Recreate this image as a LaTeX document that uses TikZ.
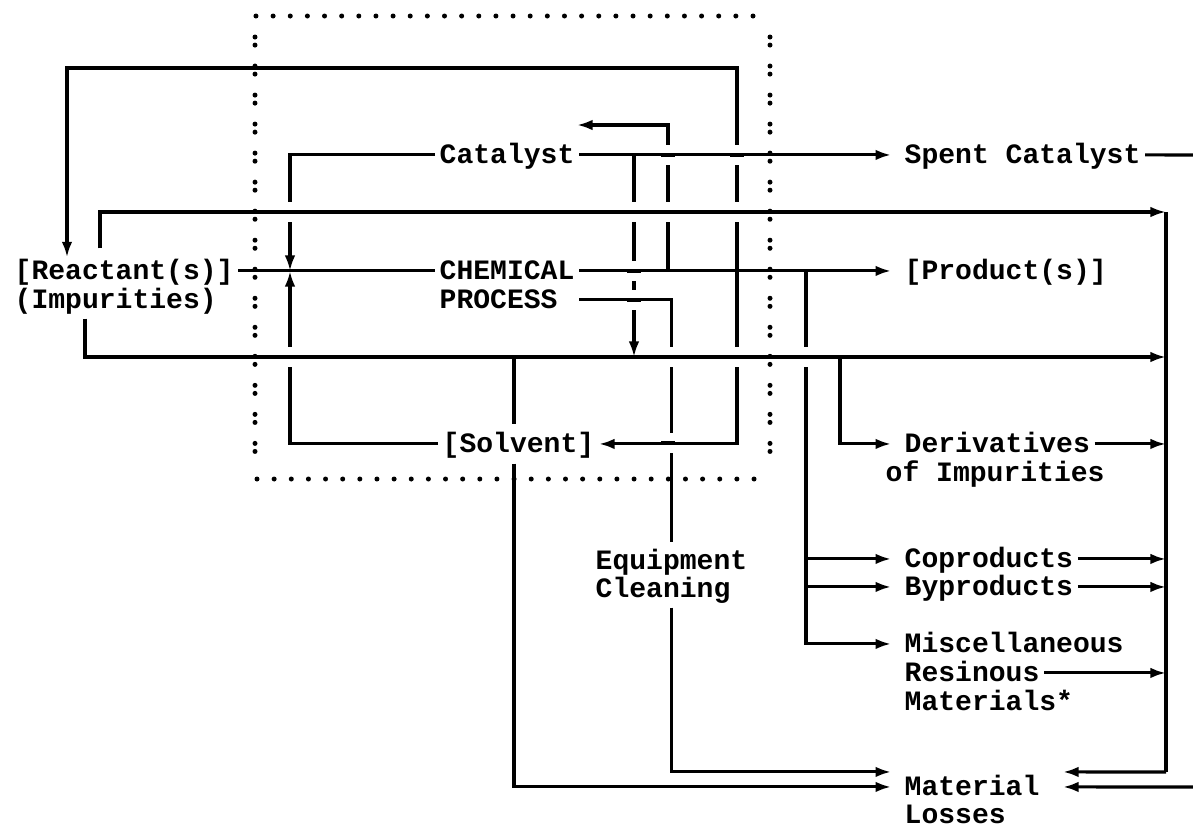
\documentclass[tikz,border=0pt]{standalone}
\usepackage{fontspec}
\newfontfamily\typewriter{Liberation Mono}
\usetikzlibrary{arrows.meta,calc}

\tikzset{
  flow/.style={line width=1.1pt},
  feed/.style={flow, -{Latex[length=5.6pt,width=3.8pt]}},
  into/.style={feed, shorten >=3.2pt},
  lbl/.style={font=\typewriter\bfseries\fontsize{10.1pt}{10.6pt}\selectfont,
    anchor=base west, inner xsep=1.5pt, inner ysep=0pt,
    text height=5.8pt, text depth=0pt},
  boundary/.style={line width=1.8pt, line cap=round, dash pattern=on 0pt off 6.17pt},
  boundaryside/.style={line width=1.8pt, line cap=round,
    dash pattern=on 0pt off 2.9pt on 0pt off 7.55pt},
}
% break in a vertical line where a horizontal one passes over it
\newcommand{\hop}[2]{%
  \fill[white] (#1-5,#2-10) rectangle (#1+5,#2+10);
  \draw[flow] (#1-7,#2) -- (#1+7,#2);}

\begin{document}
\begin{tikzpicture}[x=0.36pt, y=-0.36pt]
\useasboundingbox (0,0) rectangle (1193,827);

% process boundary
\draw[boundary] (753,16) -- (255,16);
\draw[boundary] (257,479) -- (770,479);
\draw[boundaryside] (255,37) -- (255,455);
\draw[boundaryside] (770,37) -- (770,455);

% labels
\node[lbl] (reactant) at (10,279) {[Reactant(s)]};
\node[lbl] (impurity) at (10,308) {(Impurities)};
\node[lbl] (catalyst) at (435,163) {Catalyst};
\node[lbl] (chemical) at (435,279) {CHEMICAL};
\node[lbl] (process) at (435,308) {PROCESS};
\node[lbl, inner ysep=4pt] (solvent) at (438,452) {[Solvent]};
\node[lbl] (spent) at (900,163) {Spent Catalyst};
\node[lbl] (product) at (900,279) {[Product(s)]};
\node[lbl] (deriv) at (900,452) {Derivatives};
\node[lbl] (derivof) at (881,481) {of Impurities};
\node[lbl] (coprod) at (900,567) {Coproducts};
\node[lbl] (byprod) at (900,595) {Byproducts};
\node[lbl] (misc) at (900,652) {Miscellaneous};
\node[lbl] (resin) at (900,681) {Resinous};
\node[lbl] (resinmat) at (900,710) {Materials*};
\node[lbl] (equip) at (591,569) {Equipment};
\node[lbl] (cleaning) at (591,597) {Cleaning};
\node[lbl] (material) at (900,795) {Material};
\node[lbl] (losses) at (900,823) {Losses};

\coordinate (mix) at (290,271);
\coordinate (split) at (737,271);
\coordinate (recyc) at (737,68);
\coordinate (catret) at (577,125);
\coordinate (bustop) at (1166,212);
\coordinate (busbot) at (1166,772);
\coordinate (spentout) at (1195,155);
\coordinate (spentret) at (1195,787);

% main stream
\draw[flow] (reactant.east) -- (chemical.west);
\draw[into] (chemical.east) -- (product.west);
\draw[into] (catalyst.east) -- (spent.west);
\draw[flow] (spent.east) -- (spentout);

% catalyst and solvent into the stream
\draw[feed] (catalyst.west) -| (mix);
\draw[feed] (solvent.west) -| (mix);

% recycle
\draw[feed, shorten >=1.8pt] (split) -- (recyc) -| (reactant.north -| 67,0);
\draw[feed] (split) |- (solvent.east);
\draw[feed] (chemical.east -| 668,0) |- (catret);

% reactants and impurities past the process
\draw[feed, shorten <=5pt] (reactant.north -| 100,0) |- (bustop);
\draw[feed, shorten <=3.6pt] (impurity.south -| 85,0) |- (bustop |- 0,357);
\draw[feed] (catalyst.east -| 634,0) -- (634,357);

% equipment cleaning
\draw[flow, shorten >=3.6pt] (chemical.east |- process.east) -| (equip.north);
\draw[into, shorten <=3.6pt] (equip.south |- cleaning.south) |- ([yshift=5.4pt]material.west);

% losses from the impurity line
\draw[flow] (514,357) -- (solvent.north -| 514,0);
\draw[into] (solvent.south -| 514,0) |- (material.west);

% products and side products
\draw[into] (chemical.east -| 806,0) |- (misc.west);
\draw[into] (coprod.west -| 806,0) -- (coprod.west);
\draw[into] (byprod.west -| 806,0) -- (byprod.west);
\draw[into] (840,357) |- (deriv.west);

% collector to material losses
\foreach \n in {deriv,coprod,byprod,resin}
  \draw[feed] (\n.east) -- (\n.east -| bustop);
\draw[flow] (bustop) -- (busbot);
\draw[feed, shorten >=6.8pt] (busbot) -- ([yshift=5.4pt]material.east);
\draw[feed, shorten >=6.8pt] (spentret) -- (material.east);

% crossings
\foreach \x/\y in {290/212, 290/357, 634/212, 634/271, 634/300, 668/155, 668/212,
    668/357, 668/443, 737/155, 737/212, 737/357, 806/357}
  {\hop{\x}{\y}}
\end{tikzpicture}
\end{document}
